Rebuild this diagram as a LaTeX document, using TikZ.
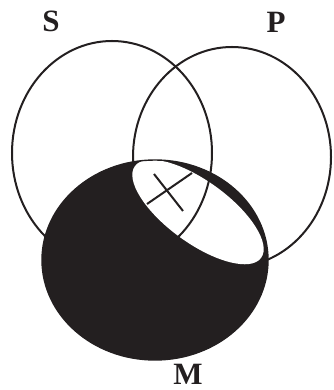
\documentclass[tikz,border=0pt]{standalone}
\usepackage{fontspec}
\setmainfont{Liberation Serif}
\definecolor{ink}{HTML}{231F20}
\begin{document}
\begin{tikzpicture}[x=1pt,y=1pt,
  ring/.style={draw=ink,line width=2pt},
  lbl/.style={font=\fontsize{31}{31}\selectfont\bfseries,text=ink,inner sep=0pt}]
\useasboundingbox (0,0) rectangle (333,390);
% P circle (drawn first so it is hidden under M)
\draw[ring] (232,233) ellipse [x radius=99,y radius=110];
% M filled
\fill[ink] (155,130) ellipse [x radius=113,y radius=100];
\begin{scope}
  \clip (155,130) ellipse [x radius=113,y radius=100];
  \fill[white,rotate around={-36:(198,178)}] (198,178) ellipse [x radius=78,y radius=31];
\end{scope}
\draw[ring,line width=1.4pt] (155,130) ellipse [x radius=113,y radius=100];
% S circle
\draw[ring] (112,237) ellipse [x radius=100,y radius=112];
% X mark
\coordinate (x1) at (154,216); \coordinate (x2) at (183,179);
\coordinate (x3) at (147,186); \coordinate (x4) at (192,217);
\draw[ring] (x1) -- (x2);
\draw[ring] (x3) -- (x4);
% labels
\node[lbl] (S) at (51,369) {S};
\node[lbl] (P) at (276,368) {P};
\node[lbl] (M) at (188,16) {M};
\end{tikzpicture}
\end{document}
